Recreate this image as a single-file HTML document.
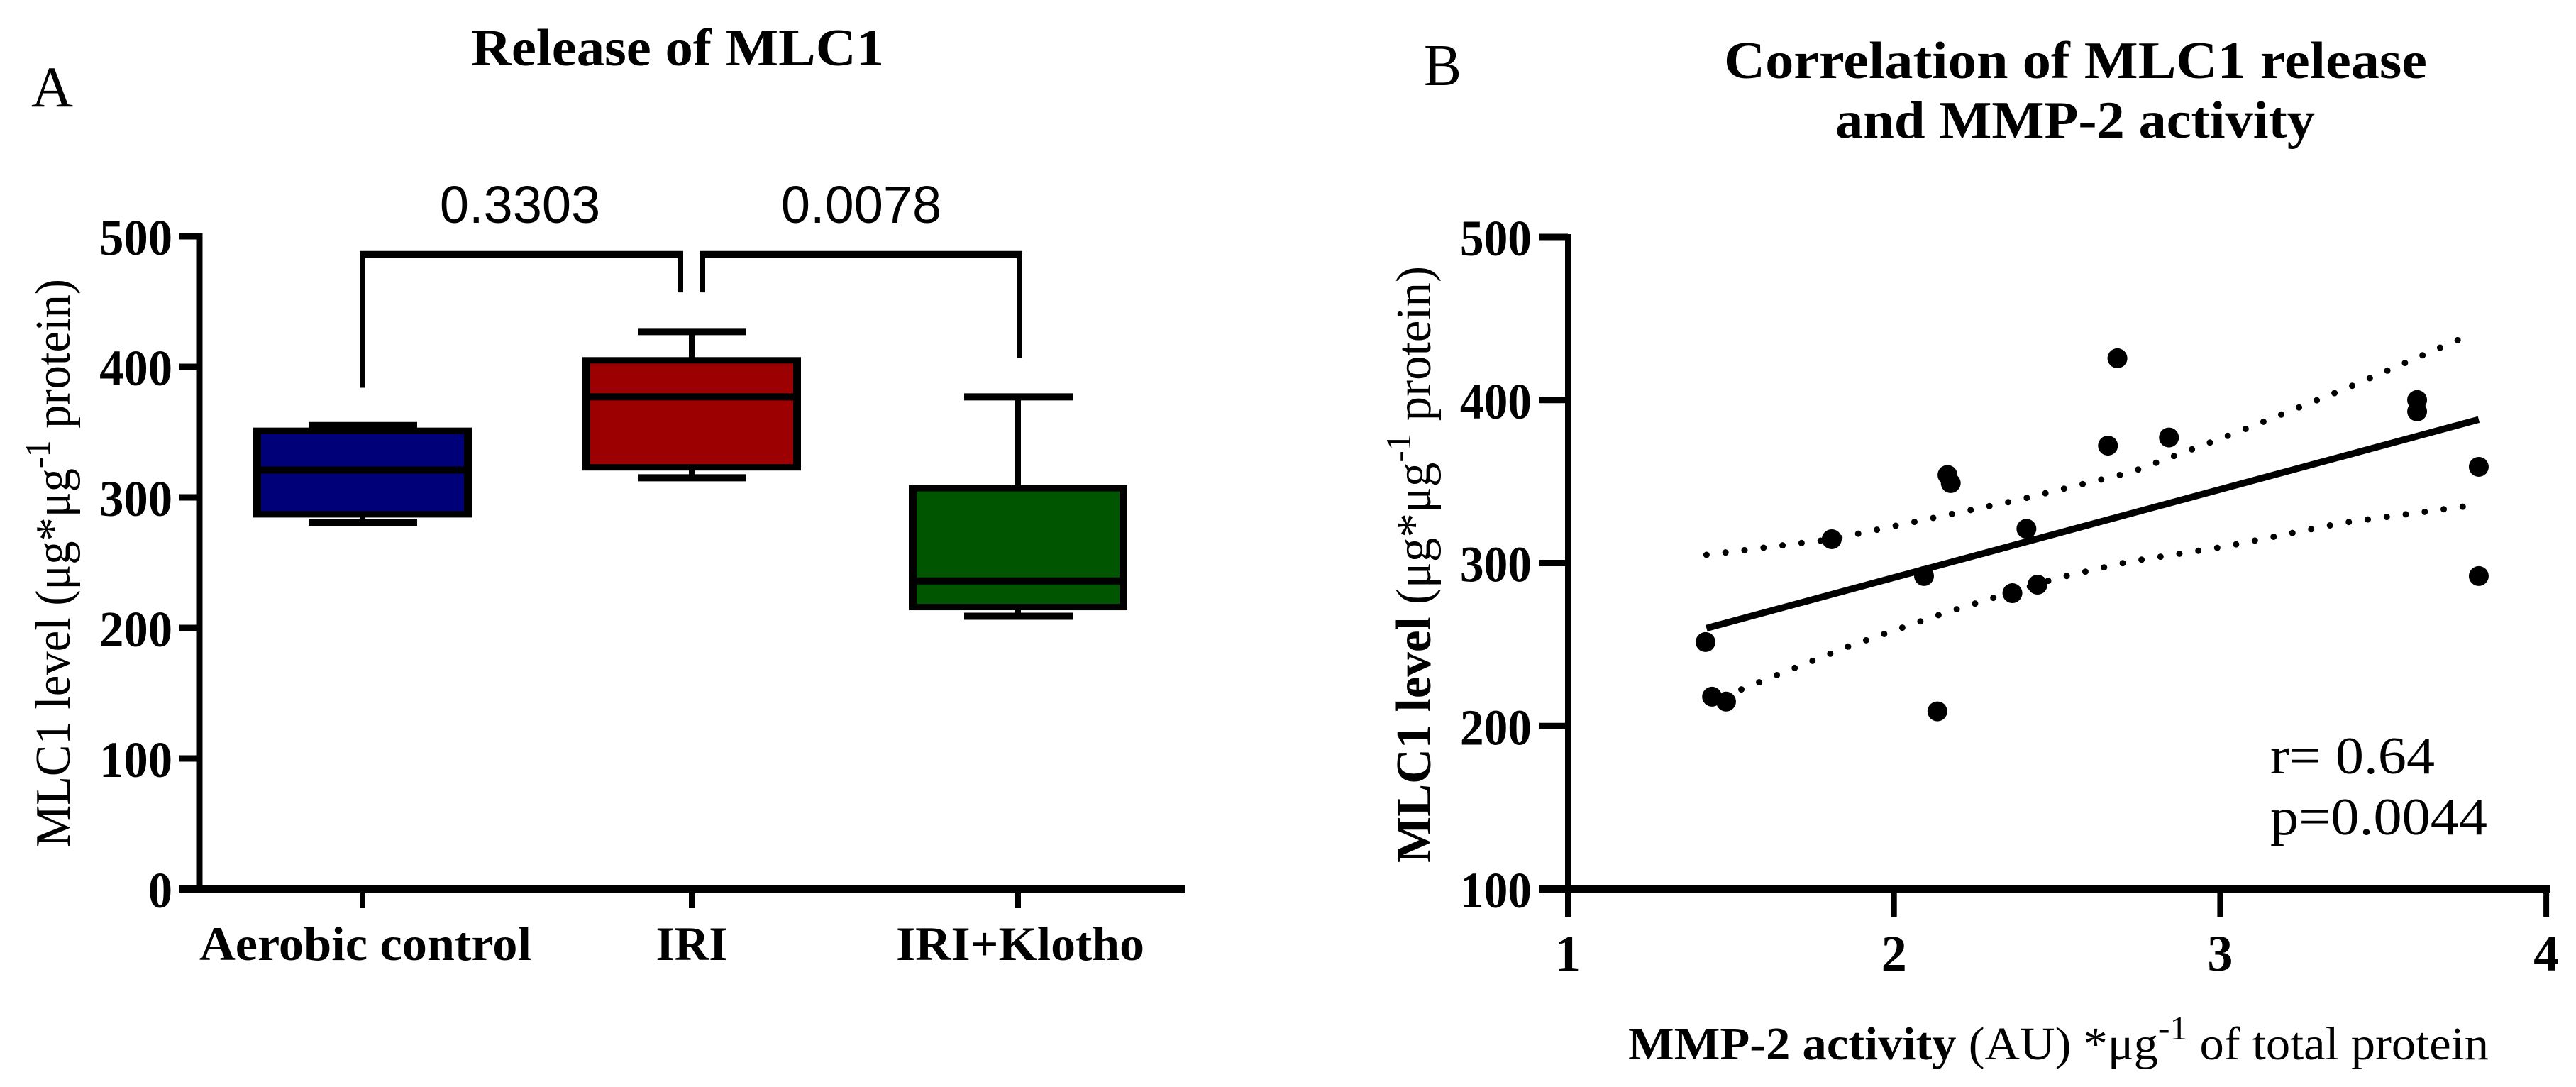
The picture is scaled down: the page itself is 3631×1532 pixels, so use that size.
<!DOCTYPE html>
<html lang="en">
<head>
<meta charset="utf-8">
<title>Release of MLC1 and correlation with MMP-2 activity</title>
<style>
html,body{margin:0;padding:0;background:#fff;}
svg{display:block;}
text{font-family:"Liberation Serif",serif;fill:#000;}
.b{font-weight:bold;}
.s{font-family:"Liberation Sans",sans-serif;}
</style>
</head>
<body>
<svg id="fig" xmlns="http://www.w3.org/2000/svg" width="3631" height="1532" viewBox="0 0 3631 1532">
  <rect x="0" y="0" width="3631" height="1532" fill="#fff"/>
  <g id="panelA"></g>
  <g id="panelB"></g>

  <text x="44" y="150" font-size="82" textLength="59" lengthAdjust="spacingAndGlyphs">A</text>
  <text class="b" x="664" y="92" font-size="74" textLength="582" lengthAdjust="spacingAndGlyphs">Release of MLC1</text>
  <text transform="translate(98,1194) rotate(-90)" font-size="70" textLength="801" lengthAdjust="spacingAndGlyphs">MLC1 level (μg*μg<tspan dy="-28" font-size="50">-1</tspan><tspan dy="28"> protein)</tspan></text>

  <text x="2007" y="120" font-size="84" textLength="53" lengthAdjust="spacingAndGlyphs">B</text>
  <text class="b" x="2430" y="110" font-size="74" textLength="991" lengthAdjust="spacingAndGlyphs">Correlation of MLC1 release</text>
  <text class="b" x="2587" y="194" font-size="74" textLength="676" lengthAdjust="spacingAndGlyphs">and MMP-2 activity</text>
  <text transform="translate(2016,1216) rotate(-90)" font-size="70" textLength="841" lengthAdjust="spacingAndGlyphs"><tspan class="b">MLC1 level</tspan> (μg*μg<tspan dy="-28" font-size="50">-1</tspan><tspan dy="28"> protein)</tspan></text>
  <text x="2295" y="1493" font-size="66" textLength="1213" lengthAdjust="spacingAndGlyphs"><tspan class="b">MMP-2 activity</tspan> (AU) *μg<tspan dy="-28" font-size="48">-1</tspan><tspan dy="28"> of total protein</tspan></text>
  <text x="3200" y="1090" font-size="74" textLength="232" lengthAdjust="spacingAndGlyphs">r= 0.64</text>
  <text x="3200" y="1176" font-size="74" textLength="306" lengthAdjust="spacingAndGlyphs">p=0.0044</text>
</svg>
<script>
// ---- Panel A data ----
var boxCategories = ['Aerobic control', 'IRI', 'IRI+Klotho'];
var boxMin = [281, 315, 209];
var boxQ1 = [287, 323, 216];
var boxMedian = [321, 377, 236];
var boxQ3 = [351, 405, 307];
var boxMax = [355, 427, 377];
var boxColors = ['#000078', '#9c0000', '#005500'];
var boxYTicks = [0, 100, 200, 300, 400, 500];
var bracketFrom = [0, 1];
var bracketTo = [1, 2];
var bracketLabels = ['0.3303', '0.0078'];
var bracketTop = [486, 486];
var bracketLeftEnd = [384, 457];
var bracketRightEnd = [457, 407];

// ---- Panel B data ----
var scatterX = [2.685, 2.656, 2.843, 3.604, 3.604, 3.793, 2.164, 2.174, 1.809, 2.406, 2.092, 2.363, 2.44, 3.793, 1.422, 1.442, 1.485, 2.133];
var scatterY = [425.6, 372, 377, 400, 393, 359, 354, 349, 314.6, 321, 292, 281.5, 286.7, 292, 251.5, 218, 215, 209];
var fitX = [1.425, 3.793];
var fitY = [260, 388];
var upperX = [1.425, 1.809, 2.366, 2.725, 3.05, 3.385, 3.777];
var upperY = [305, 314.6, 338, 355.6, 380, 407, 441];
var lowerX = [1.48, 1.526, 1.862, 2.15, 2.497, 2.725, 3.013, 3.374, 3.78];
var lowerY = [217, 222, 249, 269, 290.6, 301, 310, 324.6, 335.5];
var scatterXTicks = [1, 2, 3, 4];
var scatterYTicks = [100, 200, 300, 400, 500];

var NS = 'http://www.w3.org/2000/svg';
function mk(parent, tag, attrs, txt) {
  var el = document.createElementNS(NS, tag);
  for (var k in attrs) el.setAttribute(k, attrs[k]);
  if (txt !== undefined) el.textContent = txt;
  parent.appendChild(el);
  return el;
}
function ln(parent, x1, y1, x2, y2, w) {
  return mk(parent, 'line', {x1: x1, y1: y1, x2: x2, y2: y2, stroke: '#000', 'stroke-width': w});
}

// ---- Panel A axes ----
var A = document.getElementById('panelA');
function ay(v) { return 1253 - v * 1.84; }
function ax(i) { return [511, 975, 1435][i]; }
var el;

el = ln(A, 281, 329, 281, 1258, 9);


el = ln(A, 253, 1253, 1671, 1253, 10);



boxYTicks.forEach(function (t) {
  var tk = ln(A, 253, ay(t), 281, ay(t), 9);
  
  
  var lb = mk(A, 'text', {x: 243, y: ay(t) + 26, 'font-size': 72, 'text-anchor': 'end', 'class': 'b', textLength: String(t).length * 34.3, lengthAdjust: 'spacingAndGlyphs'}, String(t));
  
  
});

var catLabelWidth = [468, 101, 350];
boxCategories.forEach(function (c, i) {
  var cx = ax(i);
  var tk = ln(A, cx, 1258, cx, 1280, 8);
  
  
  var lb = mk(A, 'text', {x: cx + [4, 0, 3][i], y: 1353, 'font-size': 68, 'text-anchor': 'middle', 'class': 'b', textLength: catLabelWidth[i], lengthAdjust: 'spacingAndGlyphs'}, c);
  
  

  // whisker stems and caps
  var stem = ln(A, cx, ay(boxMax[i]), cx, ay(boxMin[i]), 8);
  
  
  var capT = ln(A, cx - 76, ay(boxMax[i]), cx + 77, ay(boxMax[i]), 10);
  
  
  var capB = ln(A, cx - 76, ay(boxMin[i]), cx + 77, ay(boxMin[i]), 10);
  
  

  // box
  var top = ay(boxQ3[i]), bot = ay(boxQ1[i]);
  var outer = mk(A, 'rect', {x: cx - 154, y: top - 4.5, width: 308, height: bot - top + 9, fill: '#000'});
  
  
  var inner = mk(A, 'rect', {x: cx - 143, y: top + 4.5, width: 286, height: bot - top - 9, fill: boxColors[i]});
  
  
  var med = ln(A, cx - 154, ay(boxMedian[i]), cx + 154, ay(boxMedian[i]), 10);
  
  
});

// significance brackets
var bracketLeftX = [511, 990];
var bracketRightX = [959, 1437];
var bracketLabelX = [733, 1214];
bracketLabels.forEach(function (p, i) {
  var y = ay(bracketTop[i]);
  var h = ln(A, bracketLeftX[i] - 4, y, bracketRightX[i] + 4, y, 10);
  
  
  var l = ln(A, bracketLeftX[i], y, bracketLeftX[i], ay(bracketLeftEnd[i]), 8);
  
  
  var r = ln(A, bracketRightX[i], y, bracketRightX[i], ay(bracketRightEnd[i]), 8);
  
  
  var t = mk(A, 'text', {x: bracketLabelX[i], y: 314, 'font-size': 74, 'text-anchor': 'middle', 'class': 's'}, p);
  
  
});

// ---- Panel B axes ----
var B = document.getElementById('panelB');
function bx(v) { return 2210 + (v - 1) * 459.7; }
function by(v) { return 1253 - (v - 100) * 2.2975; }

el = ln(B, 2210, 330, 2210, 1292, 8);


el = ln(B, 2170, 1253, 3594, 1253, 10);



scatterYTicks.forEach(function (t) {
  var tk = ln(B, 2170, by(t), 2210, by(t), 9);
  
  
  var lb = mk(B, 'text', {x: 2159, y: by(t) + 26, 'font-size': 72, 'text-anchor': 'end', 'class': 'b', textLength: String(t).length * 33.7, lengthAdjust: 'spacingAndGlyphs'}, String(t));
  
  
});
scatterXTicks.forEach(function (t) {
  var tk = ln(B, bx(t), 1253, bx(t), 1292, 8);
  
  
  var lb = mk(B, 'text', {x: bx(t), y: 1368, 'font-size': 72, 'text-anchor': 'middle', 'class': 'b'}, String(t));
  
  
});

function pts(xs, ys) {
  return xs.map(function (x, i) { return bx(x).toFixed(1) + ',' + by(ys[i]).toFixed(1); }).join(' ');
}
var upper = mk(B, 'polyline', {points: pts(upperX, upperY), fill: 'none', stroke: '#000', 'stroke-width': 9, 'stroke-linecap': 'round', 'stroke-dasharray': '0 27'});


var lower = mk(B, 'polyline', {points: pts(lowerX, lowerY), fill: 'none', stroke: '#000', 'stroke-width': 9, 'stroke-linecap': 'round', 'stroke-dasharray': '0 27'});


var fit = mk(B, 'polyline', {points: pts(fitX, fitY), fill: 'none', stroke: '#000', 'stroke-width': 9.5});



scatterX.forEach(function (x, i) {
  var d = mk(B, 'circle', {cx: bx(x), cy: by(scatterY[i]), r: 14, fill: '#000'});
  
  
});
</script>
</body>
</html>
